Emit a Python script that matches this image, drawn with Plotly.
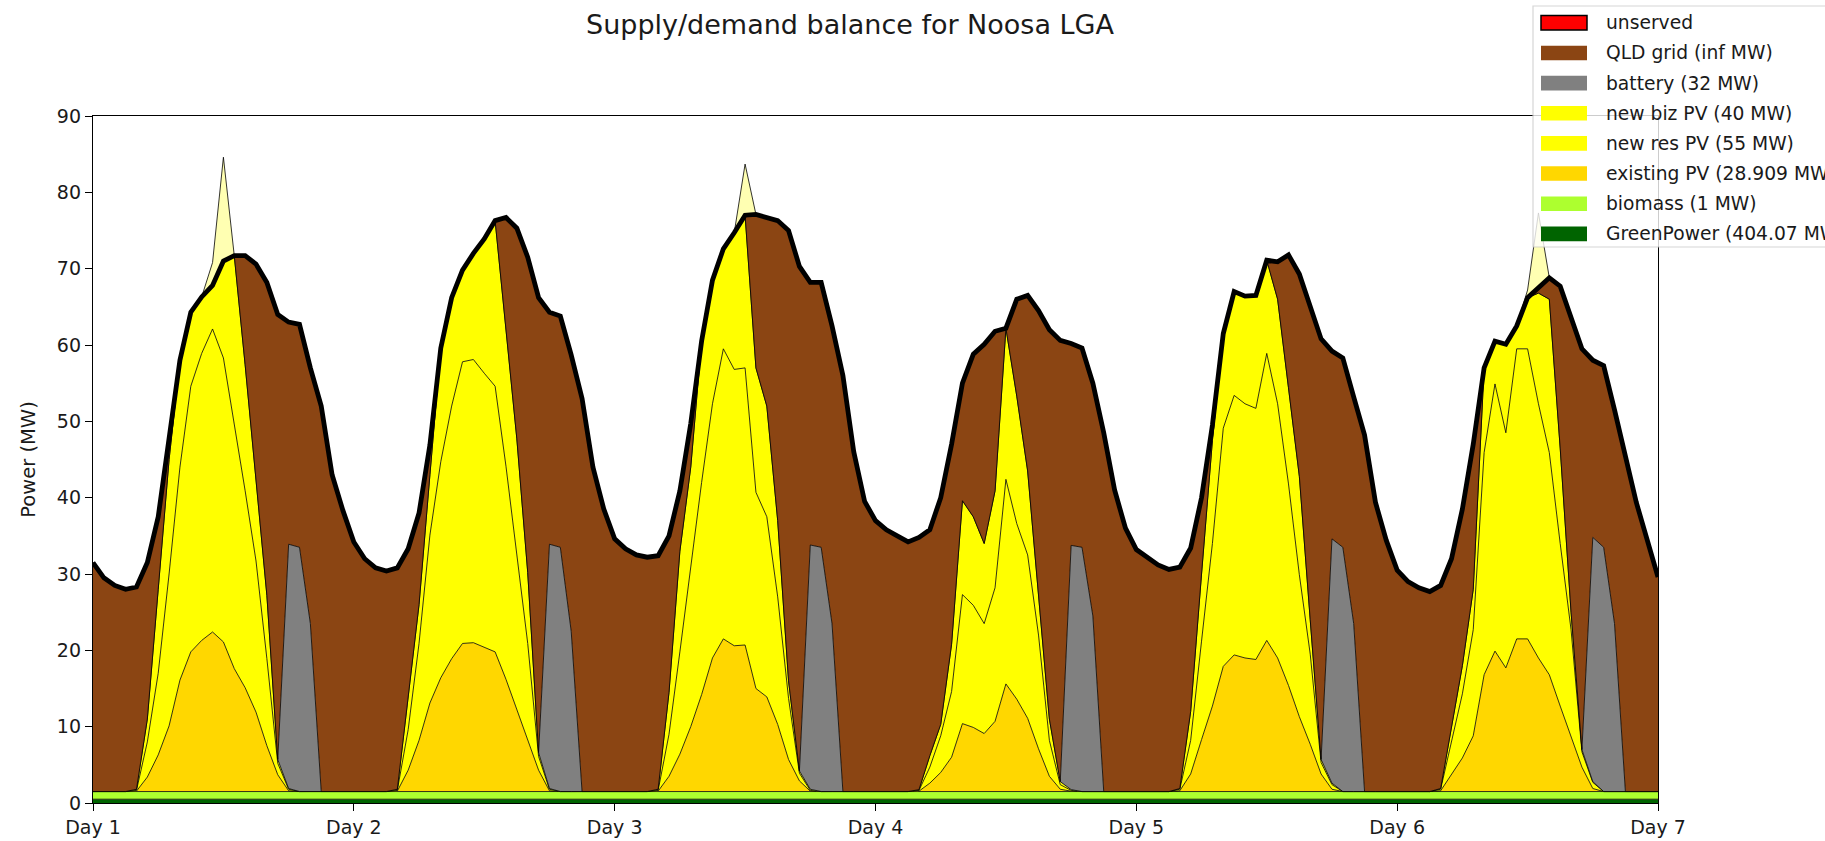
import numpy as np
import plotly.graph_objects as go

# ---------------- data (hourly, Day 1 00:00 .. Day 7 00:00) ----------------
day_labels = ["Day 1", "Day 2", "Day 3", "Day 4", "Day 5", "Day 6", "Day 7"]
day_ticks = [0, 24, 48, 72, 96, 120, 144]

demand_d1 = [31.5, 29.5, 28.5, 28.0, 28.3, 31.5, 37.5, 47.5, 58.0, 64.3, 66.3, 67.8, 71.0, 71.7, 71.7, 70.6, 68.2, 64.0, 63.0, 62.7, 57.0, 52.0, 43.0, 38.3]
demand_d2 = [34.2, 32.0, 30.8, 30.4, 30.8, 33.3, 38.0, 46.9, 59.6, 66.2, 69.8, 72.0, 73.9, 76.3, 76.7, 75.3, 71.5, 66.2, 64.3, 63.8, 58.7, 53.0, 44.0, 38.5]
demand_d3 = [34.6, 33.3, 32.5, 32.2, 32.4, 35.0, 40.9, 49.7, 60.5, 68.5, 72.6, 74.7, 77.0, 77.1, 76.7, 76.3, 75.0, 70.3, 68.2, 68.2, 62.5, 56.0, 46.0, 39.5]
demand_d4 = [37.0, 35.8, 35.0, 34.2, 34.8, 35.8, 40.0, 47.0, 55.0, 58.8, 60.1, 61.8, 62.2, 66.0, 66.5, 64.5, 62.0, 60.6, 60.2, 59.6, 55.0, 48.5, 41.0, 36.0]
demand_d5 = [33.2, 32.2, 31.2, 30.6, 30.9, 33.4, 40.0, 49.5, 61.5, 67.0, 66.4, 66.5, 71.1, 70.9, 71.8, 69.3, 65.2, 60.8, 59.2, 58.3, 53.2, 48.2, 39.4, 34.4]
demand_d6 = [30.5, 29.0, 28.2, 27.7, 28.5, 32.0, 38.5, 47.0, 57.0, 60.5, 60.1, 62.5, 66.2, 67.5, 68.8, 67.7, 63.5, 59.5, 58.0, 57.3, 51.5, 45.5, 39.4, 34.5]
demand_end = [29.6]

existing_pv_d1 = [0, 0, 0, 0, 0.05, 1.9, 4.8, 8.6, 14.6, 18.3, 19.8, 20.9, 19.6, 16.1, 13.6, 10.4, 6.0, 2.2, 0.1, 0, 0, 0, 0, 0]
existing_pv_d2 = [0, 0, 0, 0, 0.05, 2.8, 6.7, 11.6, 14.9, 17.4, 19.4, 19.5, 18.9, 18.3, 14.7, 10.8, 6.7, 2.8, 0.1, 0, 0, 0, 0, 0]
existing_pv_d3 = [0, 0, 0, 0, 0.05, 2.0, 4.9, 8.5, 12.7, 17.5, 20.0, 19.1, 19.2, 13.5, 12.4, 8.8, 4.2, 1.4, 0.05, 0, 0, 0, 0, 0]
existing_pv_d4 = [0, 0, 0, 0, 0.05, 1.1, 2.5, 4.5, 8.9, 8.4, 7.6, 9.2, 14.1, 12.1, 9.6, 5.6, 2.0, 0.3, 0.05, 0, 0, 0, 0, 0]
existing_pv_d5 = [0, 0, 0, 0, 0.1, 2.3, 6.8, 11.2, 16.4, 17.9, 17.5, 17.3, 19.8, 17.5, 13.9, 9.8, 6.2, 2.3, 0.3, 0, 0, 0, 0, 0]
existing_pv_d6 = [0, 0, 0, 0, 0.1, 2.3, 4.4, 7.3, 15.3, 18.4, 16.2, 20.0, 20.0, 17.5, 15.3, 11.2, 7.3, 3.2, 0.4, 0, 0, 0, 0, 0]

res_pv_d1 = [0, 0, 0, 0, 0.1, 4.6, 10.7, 19.9, 27.9, 34.8, 37.6, 39.7, 37.2, 32.1, 25.8, 19.8, 11.4, 1.5, 0.2, 0, 0, 0, 0, 0]
res_pv_d2 = [0, 0, 0, 0, 0.1, 5.3, 12.7, 22.0, 28.3, 33.1, 36.9, 37.1, 35.9, 34.8, 27.9, 20.5, 12.7, 1.8, 0.2, 0, 0, 0, 0, 0]
res_pv_d3 = [0, 0, 0, 0, 0.1, 5.5, 13.4, 21.0, 27.8, 33.3, 38.0, 36.2, 36.3, 25.7, 23.6, 16.7, 8.0, 1.0, 0.1, 0, 0, 0, 0, 0]
res_pv_d4 = [0, 0, 0, 0, 0.1, 2.1, 4.8, 8.6, 16.9, 16.0, 14.4, 17.5, 26.8, 23.0, 21.4, 14.9, 4.7, 0.6, 0.1, 0, 0, 0, 0, 0]
res_pv_d5 = [0, 0, 0, 0, 0.2, 4.4, 12.9, 21.3, 31.2, 34.0, 33.3, 32.9, 37.6, 33.3, 26.4, 18.6, 11.8, 1.5, 0.6, 0, 0, 0, 0, 0]
res_pv_d6 = [0, 0, 0, 0, 0.2, 4.4, 8.4, 13.9, 29.1, 35.0, 30.8, 38.0, 38.0, 33.3, 29.1, 21.3, 13.9, 2.0, 0.8, 0, 0, 0, 0, 0]

biz_pv_d1 = [0, 0, 0, 0, 0.15, 3.0, 11.0, 15.0, 14.0, 9.7, 7.4, 5.7, 12.7, 22.0, 16.5, 10.5, 8.3, 0.5, 0.1, 0, 0, 0, 0, 0]
biz_pv_d2 = [0, 0, 0, 0, 0.15, 3.9, 5.1, 7.9, 14.9, 14.2, 12.0, 13.9, 17.6, 21.7, 17.4, 14.9, 9.3, 0.5, 0.1, 0, 0, 0, 0, 0]
biz_pv_d3 = [0, 0, 0, 0, 0.15, 5.5, 13.2, 13.0, 18.5, 16.2, 13.1, 17.9, 20.0, 16.3, 14.5, 10.0, 2.3, 0.3, 0.15, 0, 0, 0, 0, 0]
biz_pv_d4 = [0, 0, 0, 0, 0.1, 1.5, 1.5, 6.2, 12.3, 11.6, 10.5, 12.7, 19.8, 16.7, 11.0, 5.5, 2.8, 0.4, 0.1, 0, 0, 0, 0, 0]
biz_pv_d5 = [0, 0, 0, 0, 0.1, 3.8, 8.8, 13.5, 12.4, 13.6, 14.1, 14.8, 12.2, 13.7, 12.6, 12.9, 4.5, 0.4, 0.2, 0, 0, 0, 0, 0]
biz_pv_d6 = [0, 0, 0, 0, 0.1, 1.8, 3.7, 5.3, 11.1, 5.6, 11.6, 3.0, 6.7, 14.5, 20.1, 12.5, 2.3, 0.3, 0.1, 0, 0, 0, 0, 0]

battery_d1 = [0] * 18 + [32.0, 32.0, 22.0, 0, 0, 0]
battery_d2 = [0] * 18 + [32.0, 32.0, 21.0, 0, 0, 0]
battery_d3 = [0] * 18 + [32.0, 32.0, 22.0, 0, 0, 0]
battery_d4 = [0] * 18 + [32.0, 32.0, 23.0, 0, 0, 0]
battery_d5 = [0] * 18 + [32.0, 32.0, 22.0, 0, 0, 0]
battery_d6 = [0] * 18 + [32.0, 32.0, 22.0, 0, 0, 0]

spill_d1 = [0] * 11 + [3.0, 13.6] + [0] * 11
spill_d2 = [0] * 24
spill_d3 = [0] * 12 + [6.7] + [0] * 11
spill_d4 = [0] * 24
spill_d5 = [0] * 24
spill_d6 = [0] * 12 + [1.0, 9.8] + [0] * 10

greenpower_level = 0.5
biomass_level = 1.0

# ---------------- assemble series ----------------
n = 145
hours = np.arange(n)
demand = np.array(demand_d1 + demand_d2 + demand_d3 + demand_d4 + demand_d5 + demand_d6 + demand_end)
existing_pv = np.array(existing_pv_d1 + existing_pv_d2 + existing_pv_d3 + existing_pv_d4 + existing_pv_d5 + existing_pv_d6 + [0])
res_pv = np.array(res_pv_d1 + res_pv_d2 + res_pv_d3 + res_pv_d4 + res_pv_d5 + res_pv_d6 + [0])
biz_pv = np.array(biz_pv_d1 + biz_pv_d2 + biz_pv_d3 + biz_pv_d4 + biz_pv_d5 + biz_pv_d6 + [0])
battery = np.array(battery_d1 + battery_d2 + battery_d3 + battery_d4 + battery_d5 + battery_d6 + [0])
spill = np.array(spill_d1 + spill_d2 + spill_d3 + spill_d4 + spill_d5 + spill_d6 + [0])
greenpower = np.full(n, greenpower_level)
biomass = np.full(n, biomass_level)
unserved = np.zeros(n)
grid = np.clip(demand - (greenpower + biomass + existing_pv + res_pv + biz_pv + battery), 0, None)

# stacking order (bottom -> top)
layers = [
    ("GreenPower (404.07 MW)", greenpower, "#006400"),
    ("biomass (1 MW)", biomass, "#adff2f"),
    ("existing PV (28.909 MW)", existing_pv, "#ffd700"),
    ("new res PV (55 MW)", res_pv, "#ffff00"),
    ("new biz PV (40 MW)", biz_pv, "#ffff00"),
    ("battery (32 MW)", battery, "#808080"),
    ("QLD grid (inf MW)", grid, "#8b4513"),
    ("unserved", unserved, "#ff0000"),
]

FONT = "DejaVu Sans"
W, H = 1825, 841
L, R, T, B = 93, 1658, 116, 803  # plot area in pixels


def xp(px):
    return (px - L) / (R - L)


def yp(py):
    return (B - py) / (B - T)


fig = go.Figure()
cum = np.zeros(n)
fig.add_trace(go.Scatter(x=hours, y=cum.copy(), mode="lines", line=dict(width=0),
                         showlegend=False, hoverinfo="skip"))
for name, vals, color in layers:
    cum = cum + vals
    fig.add_trace(go.Scatter(x=hours, y=cum.copy(), mode="lines", name=name,
                             fill="tonexty", fillcolor=color,
                             line=dict(color="black", width=0.8),
                             showlegend=False))

# spilled energy above demand
fig.add_trace(go.Scatter(x=hours, y=cum + spill, mode="lines", name="spilled",
                         fill="tonexty", fillcolor="rgba(255,255,0,0.3)",
                         line=dict(color="black", width=0.8), showlegend=False))

# demand line
fig.add_trace(go.Scatter(x=hours, y=demand, mode="lines", name="demand",
                         line=dict(color="black", width=4.8), showlegend=False))

# ---------------- legend (drawn as patches + text) ----------------
shapes = []
annotations = []
shapes.append(dict(type="rect", xref="paper", yref="paper",
                   x0=xp(1533), x1=xp(1860), y0=yp(247), y1=yp(6),
                   fillcolor="white", opacity=0.8,
                   line=dict(color="#cccccc", width=1.2), layer="above"))
legend_items = list(reversed(layers))
for i, (name, vals, color) in enumerate(legend_items):
    cy = 22.8 + 30.15 * i
    edge = dict(color="black", width=1.5) if name == "unserved" else dict(width=0)
    shapes.append(dict(type="rect", xref="paper", yref="paper",
                       x0=xp(1541), x1=xp(1587), y0=yp(cy + 7.3), y1=yp(cy - 7.3),
                       fillcolor=color, line=edge, layer="above"))
    annotations.append(dict(x=xp(1604), y=yp(cy), xref="paper", yref="paper",
                            text=name, showarrow=False, xanchor="left", yanchor="middle",
                            font=dict(family=FONT, size=18.7, color="#1a1a1a")))

fig.update_layout(
    width=W, height=H,
    margin=dict(l=L, r=W - R, t=T, b=H - B, autoexpand=False),
    paper_bgcolor="white", plot_bgcolor="white",
    font=dict(family=FONT, size=19, color="#1a1a1a"),
    title=dict(text="Supply/demand balance for Noosa LGA", x=850 / W, xanchor="center",
               y=1 - 25 / H, yanchor="middle", xref="container", yref="container",
               font=dict(family=FONT, size=27, color="#1a1a1a")),
    shapes=shapes, annotations=annotations,
    showlegend=False,
)
fig.update_xaxes(range=[0, 144], tickvals=day_ticks, ticktext=day_labels,
                 ticks="outside", ticklen=7, tickwidth=1.2, tickcolor="black",
                 showline=True, linecolor="black", linewidth=1.3, mirror=True,
                 showgrid=False, zeroline=False,
                 tickfont=dict(family=FONT, size=19, color="#1a1a1a"))
fig.update_yaxes(range=[0, 90], tick0=0, dtick=10,
                 ticks="outside", ticklen=7, tickwidth=1.2, tickcolor="black",
                 showline=True, linecolor="black", linewidth=1.3, mirror=True,
                 showgrid=False, zeroline=False,
                 tickfont=dict(family=FONT, size=19, color="#1a1a1a"),
                 title=dict(text="Power (MW)", standoff=16,
                            font=dict(family=FONT, size=19.5, color="#1a1a1a")))

fig.write_html("out.html",
               config={"displayModeBar": False},
               post_script="document.body.style.margin='0';document.body.style.overflow='hidden';")
